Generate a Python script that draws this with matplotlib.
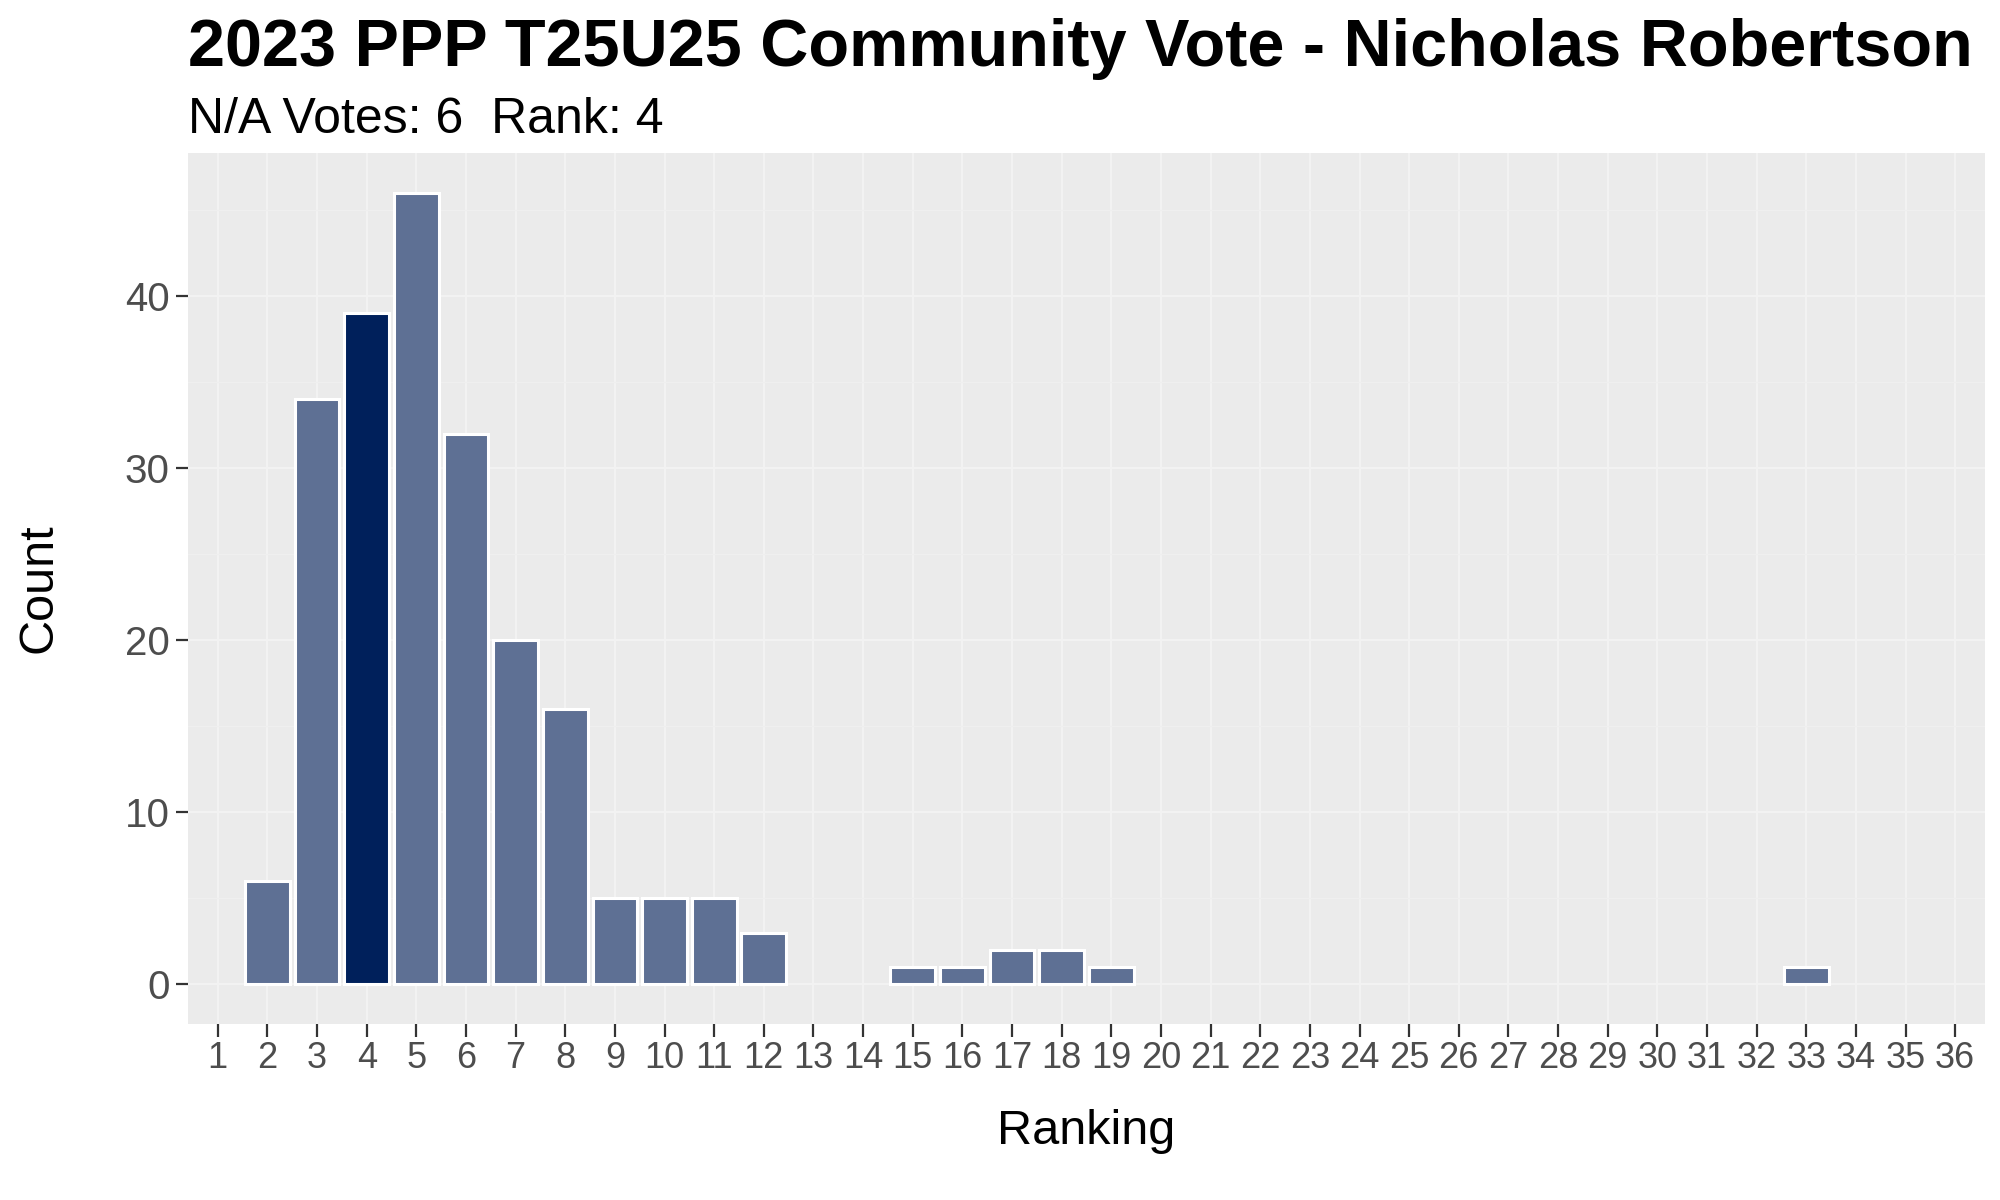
import numpy as np
import matplotlib.pyplot as plt
from matplotlib.ticker import MultipleLocator

# vote data
rankings = list(range(1, 37))
counts = [0, 6, 34, 39, 46, 32, 20, 16, 5, 5, 5, 3, 0, 0, 1, 1, 2, 2, 1,
          0, 0, 0, 0, 0, 0, 0, 0, 0, 0, 0, 0, 0, 1, 0, 0, 0]
highlight_rank = 4
title = "2023 PPP T25U25 Community Vote - Nicholas Robertson"
subtitle = "N/A Votes: 6  Rank: 4"

plt.rcParams['font.family'] = ['Liberation Sans', 'DejaVu Sans']

fig = plt.figure(figsize=(20, 12), dpi=100)
ax = fig.add_axes([0.094, 0.1467, 0.8985, 0.7258])
ax.set_facecolor('#EBEBEB')

# only draw ranks that got votes
xs = [r for r, c in zip(rankings, counts) if c > 0]
ys = [c for c in counts if c > 0]
colors = ['#00205B' if r == highlight_rank else '#5E7094' for r in xs]
ax.bar(xs, ys, width=0.9, color=colors, edgecolor='white', linewidth=2.2, zorder=3)

ax.set_xlim(0.4, 36.6)
ax.set_ylim(-2.3, 48.3)
ax.set_xticks(rankings)
ax.set_xticklabels([str(r) for r in rankings])
ax.set_yticks([0, 10, 20, 30, 40])
ax.yaxis.set_minor_locator(MultipleLocator(5))

ax.grid(which='major', color='#F2F2F2', linewidth=1.5, zorder=0)
ax.grid(which='minor', axis='y', color='#EFEFEF', linewidth=0.9, zorder=0)
ax.set_axisbelow(True)

for s in ax.spines.values():
    s.set_visible(False)

ax.tick_params(axis='both', which='major', color='#333333', length=9, width=1.6)
ax.tick_params(axis='y', which='minor', length=0)
ax.tick_params(axis='x', labelsize=26, labelcolor='#4D4D4D', pad=3)
ax.tick_params(axis='y', labelsize=29, labelcolor='#4D4D4D', pad=4)

ax.set_xlabel("Ranking", fontsize=35, labelpad=24)
ax.set_ylabel("Count", fontsize=35, labelpad=46)

fig.text(0.094, 0.945, title, fontsize=48, fontweight='bold', ha='left', va='baseline')
fig.text(0.094, 0.889, subtitle, fontsize=36, ha='left', va='baseline')

fig.savefig("out.png", dpi=100)
